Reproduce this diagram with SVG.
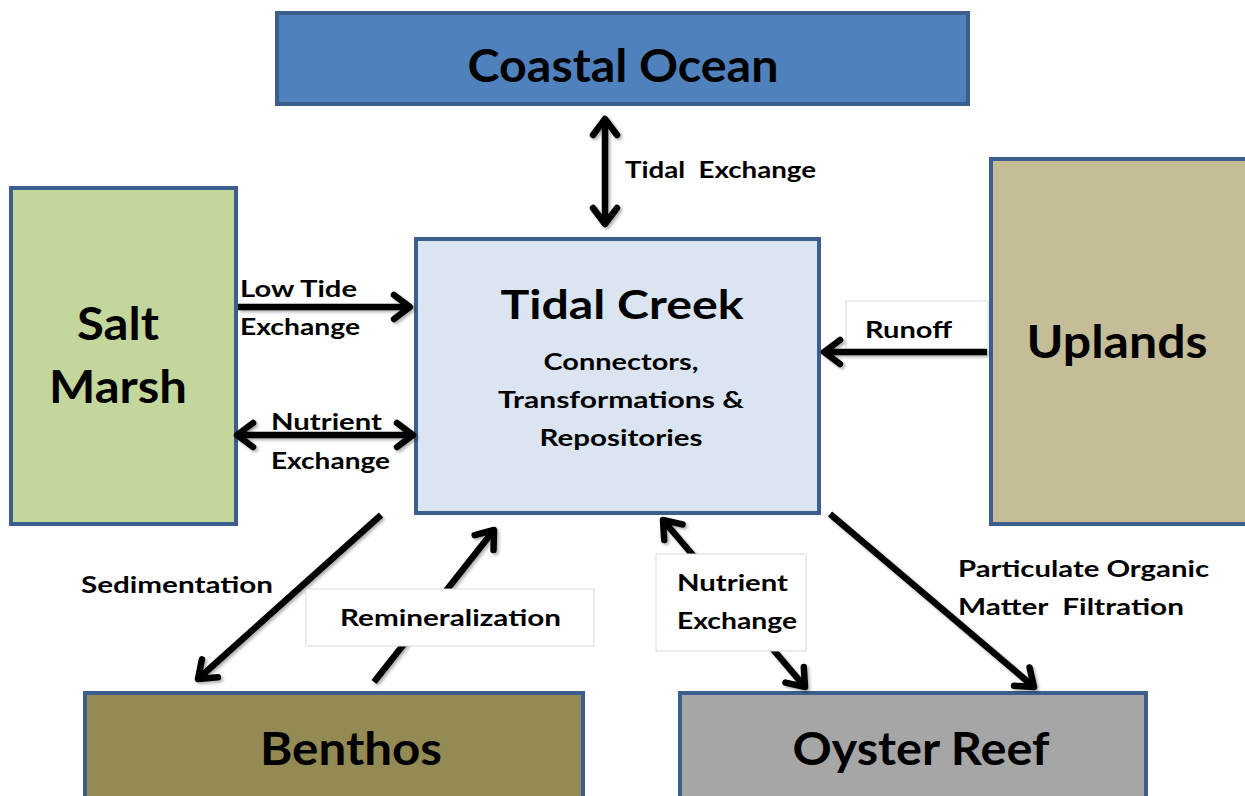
<svg xmlns="http://www.w3.org/2000/svg" width="1245" height="796" viewBox="0 0 1245 796">
<style>
.box{stroke:#3b5e8c;stroke-width:4}
.t{font-family:Lato,"Open Sans","Liberation Sans",sans-serif;font-weight:bold;fill:#000}
.big{font-size:45px}
.mid{font-size:23px}
.lab{font-size:23px}
.conn{stroke:#000;stroke-width:6.5;fill:none}
.lbox{fill:#fff;stroke:#d9d9d9;stroke-width:1}
</style>
<defs>
<marker id="ah" markerUnits="userSpaceOnUse" viewBox="-24 -16 28 32" markerWidth="28" markerHeight="32" refX="0" refY="0" orient="auto-start-reverse">
<path d="M-16,-12 L0,0 L-16,12" fill="none" stroke="#000" stroke-width="6.5" stroke-linecap="round" stroke-linejoin="round"/>
</marker>
<filter id="sh" filterUnits="userSpaceOnUse" x="0" y="0" width="1245" height="796">
<feDropShadow dx="2" dy="2" stdDeviation="1.5" flood-color="#000" flood-opacity="0.3"/>
</filter>
</defs>
<rect width="1245" height="796" fill="#fff"/>

<g id="coastal-ocean">
<rect class="box" x="277" y="13" width="691" height="91" fill="#4f81bd"/>
<text class="t big" x="623" y="82" text-anchor="middle" textLength="311" lengthAdjust="spacingAndGlyphs">Coastal Ocean</text>
</g>

<g id="tidal-creek">
<rect class="box" x="416" y="239" width="403" height="274" fill="#dbe5f1"/>
<text class="t" x="622" y="319" font-size="41" text-anchor="middle" textLength="243" lengthAdjust="spacingAndGlyphs">Tidal Creek</text>
<text class="t mid" x="621" y="370" text-anchor="middle" textLength="155" lengthAdjust="spacingAndGlyphs">Connectors,</text>
<text class="t mid" x="621" y="408" text-anchor="middle" textLength="246" lengthAdjust="spacingAndGlyphs">Transformations &amp;</text>
<text class="t mid" x="621" y="446" text-anchor="middle" textLength="163" lengthAdjust="spacingAndGlyphs">Repositories</text>
</g>

<g id="salt-marsh">
<rect class="box" x="11" y="188" width="225" height="336" fill="#c3d69b"/>
<text class="t big" x="118" y="340" text-anchor="middle" textLength="82" lengthAdjust="spacingAndGlyphs">Salt</text>
<text class="t big" x="118" y="403" text-anchor="middle" textLength="138" lengthAdjust="spacingAndGlyphs">Marsh</text>
</g>

<g id="uplands">
<rect class="box" x="991" y="159" width="262" height="365" fill="#c4bd97"/>
<text class="t big" x="1117" y="358" text-anchor="middle" textLength="181" lengthAdjust="spacingAndGlyphs">Uplands</text>
</g>

<g id="benthos">
<rect class="box" x="85" y="693" width="498" height="110" fill="#948a54"/>
<text class="t big" x="351" y="765" text-anchor="middle" textLength="182" lengthAdjust="spacingAndGlyphs">Benthos</text>
</g>

<g id="oyster-reef">
<rect class="box" x="680" y="693" width="466" height="110" fill="#a6a6a6"/>
<text class="t big" x="921" y="765" text-anchor="middle" textLength="257" lengthAdjust="spacingAndGlyphs">Oyster Reef</text>
</g>

<g id="connectors">
<g filter="url(#sh)">
<line class="conn" x1="605" y1="119" x2="605" y2="224" marker-start="url(#ah)" marker-end="url(#ah)"/>
<line class="conn" x1="238" y1="307" x2="410" y2="307" marker-end="url(#ah)"/>
<line class="conn" x1="237" y1="435" x2="413" y2="435" marker-start="url(#ah)" marker-end="url(#ah)"/>
<line class="conn" x1="381" y1="515" x2="198" y2="679" marker-end="url(#ah)"/>
<line class="conn" x1="374" y1="682" x2="494" y2="530" marker-end="url(#ah)"/>
<line class="conn" x1="663" y1="520" x2="805" y2="687" marker-start="url(#ah)" marker-end="url(#ah)"/>
<line class="conn" x1="830" y1="514" x2="1034" y2="687" marker-end="url(#ah)"/>
</g>
<rect class="lbox" x="846" y="301" width="142" height="50"/>
<rect class="lbox" x="306" y="589" width="288" height="57"/>
<rect class="lbox" x="656" y="554" width="150" height="97"/>
<g filter="url(#sh)">
<line class="conn" x1="987" y1="352" x2="824" y2="352" marker-end="url(#ah)"/>
</g>
<text class="t lab" x="625" y="178" textLength="191" lengthAdjust="spacingAndGlyphs">Tidal&#160; Exchange</text>
<text class="t lab" x="240" y="297" textLength="117" lengthAdjust="spacingAndGlyphs">Low Tide</text>
<text class="t lab" x="240" y="335" textLength="120" lengthAdjust="spacingAndGlyphs">Exchange</text>
<text class="t lab" x="271" y="430" textLength="111" lengthAdjust="spacingAndGlyphs">Nutrient</text>
<text class="t lab" x="271" y="469" textLength="119" lengthAdjust="spacingAndGlyphs">Exchange</text>
<text class="t lab" x="865" y="338" textLength="87" lengthAdjust="spacingAndGlyphs">Runoff</text>
<text class="t lab" x="81" y="593" textLength="192" lengthAdjust="spacingAndGlyphs">Sedimentation</text>
<text class="t lab" x="340" y="626" textLength="221" lengthAdjust="spacingAndGlyphs">Remineralization</text>
<text class="t lab" x="677" y="591" textLength="111" lengthAdjust="spacingAndGlyphs">Nutrient</text>
<text class="t lab" x="677" y="629" textLength="120" lengthAdjust="spacingAndGlyphs">Exchange</text>
<text class="t lab" x="958" y="577" textLength="251" lengthAdjust="spacingAndGlyphs">Particulate Organic</text>
<text class="t lab" x="958" y="615" textLength="226" lengthAdjust="spacingAndGlyphs">Matter&#160; Filtration</text>
</g>
</svg>
